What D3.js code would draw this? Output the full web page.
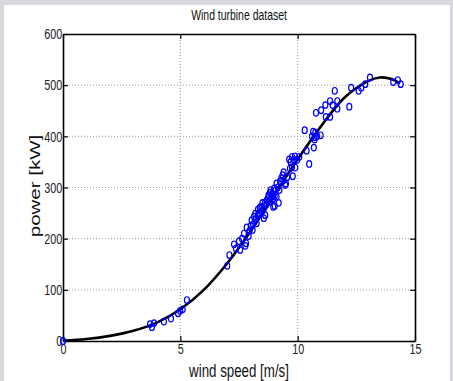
<!DOCTYPE html>
<html>
<head>
<meta charset="utf-8">
<script src="https://cdn.jsdelivr.net/npm/d3@7"></script>
<style>
  html, body { margin: 0; padding: 0; background: #d9d8dc; }
  svg { display: block; }
</style>
</head>
<body>
<svg id="chart" width="453" height="381"></svg>
<script>
// measured wind speed [m/s] / power [kW]
const speed = [
  0, 3.71, 3.79, 3.88, 4.3, 4.6, 4.9, 4.99, 5.1, 5.28,
  7.0, 7.09, 7.29, 7.37, 7.5, 7.55, 7.63, 7.71, 7.77, 7.8, 7.83, 7.91, 7.95, 8.0,
  8.04, 8.08, 8.1, 8.14, 8.19, 8.2, 8.25, 8.3, 8.31, 8.35, 8.39, 8.4, 8.45, 8.48,
  8.5, 8.55, 8.56, 8.6, 8.62, 8.65, 8.68, 8.7, 8.75, 8.76, 8.79, 8.82, 8.82, 8.85,
  8.88, 8.9, 8.92, 8.96, 8.96, 9.0, 9.02, 9.02, 9.05, 9.1, 9.1, 9.15, 9.19, 9.22,
  9.25, 9.3, 9.36, 9.39, 9.4, 9.47, 9.5, 9.55,
  9.64, 9.67, 9.7, 9.76, 9.76, 9.79, 9.84, 9.88, 9.9, 9.98, 10.07, 10.3, 10.38,
  10.49, 10.61, 10.66, 10.69, 10.72, 10.72, 10.75, 10.83, 10.98, 10.78, 11.0, 11.18,
  11.2, 11.38, 11.38, 11.49, 11.58, 11.69, 11.69, 12.2, 12.28, 12.6, 12.71, 12.88,
  13.08, 14.07, 14.27, 14.39
];
const power = [
  0, 33, 27, 35, 38, 44, 54, 59, 62, 80,
  147, 168, 189, 181, 195, 178, 200, 210, 186, 191, 222, 205, 215, 225,
  236, 217, 228, 243, 249, 238, 230, 245, 257, 250, 261, 248, 262, 253,
  270, 258, 240, 270, 246, 266, 275, 275, 280, 285, 272, 290, 272, 295,
  285, 282, 288, 279, 262, 298, 264, 283, 294, 282, 308, 300, 270, 295,
  312, 318, 324, 314, 330, 305, 308, 320,
  355, 337, 350, 360, 340, 322, 354, 361, 339, 354, 360, 412, 372,
  346, 400, 409, 378, 398, 394, 407, 400, 402, 446, 451, 461,
  438, 469, 438, 461, 489, 469, 454, 458, 495, 489, 495, 502,
  515, 506, 510, 502
];

// fitted power curve
const fitSpeed = [0, 1, 2, 3, 4, 5, 6, 7, 8, 9, 10, 11, 12, 13, 13.5, 14.0, 14.36];
const fitPower = [1, 4, 10, 20, 36, 62, 100, 152, 215, 285, 355, 420, 476, 508, 515, 512, 503];

const xTicks = [0, 5, 10, 15];
const yTicks = [0, 100, 200, 300, 400, 500, 600];

const sx = 0.72; // horizontal squeeze of the original figure
const font = "'Liberation Sans', Arial, Helvetica, sans-serif";

const svg = d3.select("#chart");

// white figure panel
svg.append("rect")
  .attr("x", 4).attr("y", 5)
  .attr("width", 446).attr("height", 376)
  .attr("fill", "#fff");

const x = d3.scaleLinear().domain([0, 15]).range([63, 415]);
const y = d3.scaleLinear().domain([0, 600]).range([341, 34]);

// dotted grid
const grid = svg.append("g").attr("class", "grid");
grid.selectAll(".gx")
  .data(xTicks.slice(1, -1))
  .enter().append("line")
  .attr("x1", d => x(d)).attr("x2", d => x(d))
  .attr("y1", y(0)).attr("y2", y(600));
grid.selectAll(".gy")
  .data(yTicks.slice(1, -1))
  .enter().append("line")
  .attr("x1", x(0)).attr("x2", x(15))
  .attr("y1", d => y(d)).attr("y2", d => y(d));
grid.selectAll("line")
  .attr("stroke", "#9a9a9a")
  .attr("stroke-width", 1)
  .attr("stroke-dasharray", "1,2");

// axes, ticks pointing inward on all four sides
const axBottom = svg.append("g")
  .attr("transform", "translate(0," + y(0) + ")")
  .call(d3.axisBottom(x).tickValues(xTicks).tickSizeInner(-5).tickSizeOuter(0).tickPadding(2));
const axTop = svg.append("g")
  .attr("transform", "translate(0," + y(600) + ")")
  .call(d3.axisTop(x).tickValues(xTicks).tickSizeInner(-5).tickSizeOuter(0).tickFormat(""));
const axLeft = svg.append("g")
  .attr("transform", "translate(" + x(0) + ",0)")
  .call(d3.axisLeft(y).tickValues(yTicks).tickSizeInner(-5).tickSizeOuter(0).tickPadding(1));
const axRight = svg.append("g")
  .attr("transform", "translate(" + x(15) + ",0)")
  .call(d3.axisRight(y).tickValues(yTicks).tickSizeInner(-5).tickSizeOuter(0).tickFormat(""));

[axBottom, axTop, axLeft, axRight].forEach(g => {
  g.select(".domain").attr("stroke", "#000").attr("stroke-width", 1.6);
  g.selectAll(".tick line").attr("stroke", "#000").attr("stroke-width", 1.2);
  g.selectAll(".tick text")
    .attr("fill", "#222")
    .style("font-family", font)
    .style("font-size", "15px")
    .attr("transform", "scale(" + sx + ",1)");
});

// fitted curve
const line = d3.line()
  .x(d => x(d[0]))
  .y(d => y(d[1]))
  .curve(d3.curveCatmullRom.alpha(0.5));

svg.append("path")
  .datum(fitSpeed.map((s, i) => [s, fitPower[i]]))
  .attr("d", line)
  .attr("fill", "none")
  .attr("stroke", "#000")
  .attr("stroke-width", 2.6);

// measurements
svg.append("g")
  .selectAll("ellipse")
  .data(speed.map((s, i) => [s, power[i]]))
  .enter().append("ellipse")
  .attr("cx", d => x(d[0]))
  .attr("cy", d => y(d[1]))
  .attr("rx", 2.5)
  .attr("ry", 3.3)
  .attr("fill", "none")
  .attr("stroke", "#0000ff")
  .attr("stroke-width", 1.2);

// labels
svg.append("text")
  .attr("transform", "translate(239,20) scale(" + sx + ",1)")
  .attr("text-anchor", "middle")
  .style("font-family", font)
  .style("font-size", "14.5px")
  .attr("fill", "#111")
  .text("Wind turbine dataset");

svg.append("text")
  .attr("transform", "translate(239,377) scale(" + sx + ",1)")
  .attr("text-anchor", "middle")
  .style("font-family", font)
  .style("font-size", "18.5px")
  .attr("fill", "#111")
  .text("wind speed [m/s]");

svg.append("text")
  .attr("transform", "translate(39.5,186) scale(" + sx + ",1) rotate(-90)")
  .attr("text-anchor", "middle")
  .style("font-family", font)
  .style("font-size", "20.5px")
  .attr("fill", "#111")
  .text("power [kW]");
</script>
</body>
</html>
